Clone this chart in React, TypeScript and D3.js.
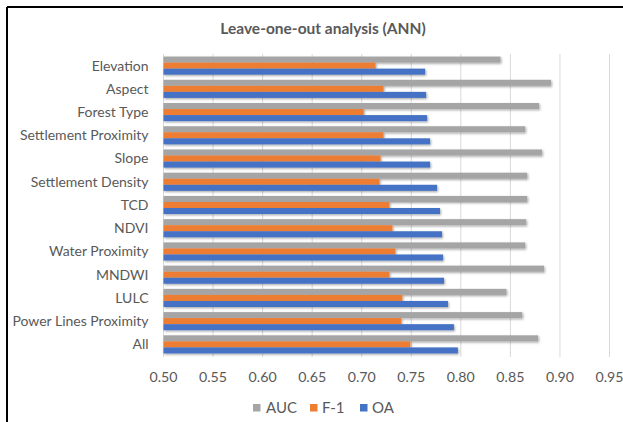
import React from "react";
import * as d3 from "d3";

const categories = [
  "Elevation",
  "Aspect",
  "Forest Type",
  "Settlement Proximity",
  "Slope",
  "Settlement Density",
  "TCD",
  "NDVI",
  "Water Proximity",
  "MNDWI",
  "LULC",
  "Power Lines Proximity",
  "All",
];
const aucValues = [0.840, 0.891, 0.879, 0.865, 0.882, 0.867, 0.867, 0.866, 0.865, 0.884, 0.846, 0.862, 0.878];
const f1Values = [0.714, 0.722, 0.702, 0.722, 0.719, 0.718, 0.728, 0.731, 0.734, 0.728, 0.741, 0.740, 0.749];
const oaValues = [0.764, 0.765, 0.766, 0.769, 0.769, 0.776, 0.779, 0.781, 0.782, 0.783, 0.787, 0.793, 0.797];
const seriesNames = ["AUC", "F-1", "OA"];
const xTicks = [0.5, 0.55, 0.6, 0.65, 0.7, 0.75, 0.8, 0.85, 0.9, 0.95];
const title = "Leave-one-out analysis (ANN)";

const colors = ["#a5a5a5", "#ed7d31", "#4472c4"];
const font = "Lato, 'Open Sans', sans-serif";
const textColor = "#595959";

export default function App() {
  const W = 623;
  const H = 422;
  const x = d3.scaleLinear().domain([0.5, 0.95]).range([163.5, 609.5]);
  const y = d3.scaleBand<string>().domain(categories).range([54, 356]).paddingInner(0.22).paddingOuter(0.11);
  const inner = d3.scaleBand<string>().domain(seriesNames).range([0, y.bandwidth()]).padding(0);
  const series = [aucValues, f1Values, oaValues];

  const legendItems = [
    { name: "AUC", sq: 253, tx: 266 },
    { name: "F-1", sq: 310, tx: 322 },
    { name: "OA", sq: 360, tx: 372 },
  ];

  return (
    <svg
      width={W}
      height={H}
      style={{ position: "absolute", left: 0, top: 0, background: "#fff" }}
      fontFamily={font}
    >
      <defs>
        <filter id="shadow" x="-5%" y="-50%" width="110%" height="250%">
          <feDropShadow dx="1" dy="1.2" stdDeviation="0.9" floodColor="#000" floodOpacity="0.35" />
        </filter>
      </defs>
      <rect x={0} y={0} width={W} height={H} fill="#fff" />
      {/* frame */}
      <line x1={7} y1={7} x2={W} y2={7} stroke="#000" strokeWidth={2} />
      <line x1={7} y1={7} x2={7} y2={H} stroke="#000" strokeWidth={2} />

      <text x={323} y={34} textAnchor="middle" fontSize={15.5} fontWeight={700} fill={textColor}>
        {title}
      </text>

      {/* gridlines */}
      {xTicks.map((t) => (
        <line key={t} x1={x(t)} x2={x(t)} y1={54} y2={357} stroke="#d9d9d9" strokeWidth={1} />
      ))}

      {/* bars */}
      {categories.map((c, i) => (
        <g key={c} filter="url(#shadow)">
          {series.map((vals, s) => (
            <rect
              key={s}
              x={x(0.5)}
              y={(y(c) as number) + (inner(seriesNames[s]) as number)}
              width={x(vals[i]) - x(0.5)}
              height={inner.bandwidth()}
              fill={colors[s]}
            />
          ))}
        </g>
      ))}

      {/* category labels */}
      {categories.map((c) => (
        <text
          key={c}
          x={148.5}
          y={(y(c) as number) + y.bandwidth() / 2}
          dy="0.35em"
          textAnchor="end"
          fontSize={14}
          fill={textColor}
        >
          {c}
        </text>
      ))}

      {/* x tick labels */}
      {xTicks.map((t) => (
        <text key={t} x={x(t)} y={377} dy="0.35em" textAnchor="middle" fontSize={14.2} fill={textColor}>
          {d3.format(".2f")(t)}
        </text>
      ))}

      {/* legend */}
      {legendItems.map((l, i) => (
        <g key={l.name}>
          <rect x={l.sq} y={404} width={7.5} height={7.5} fill={colors[i]} />
          <text x={l.tx} y={408} dy="0.35em" fontSize={15} fill={textColor}>
            {l.name}
          </text>
        </g>
      ))}
    </svg>
  );
}
